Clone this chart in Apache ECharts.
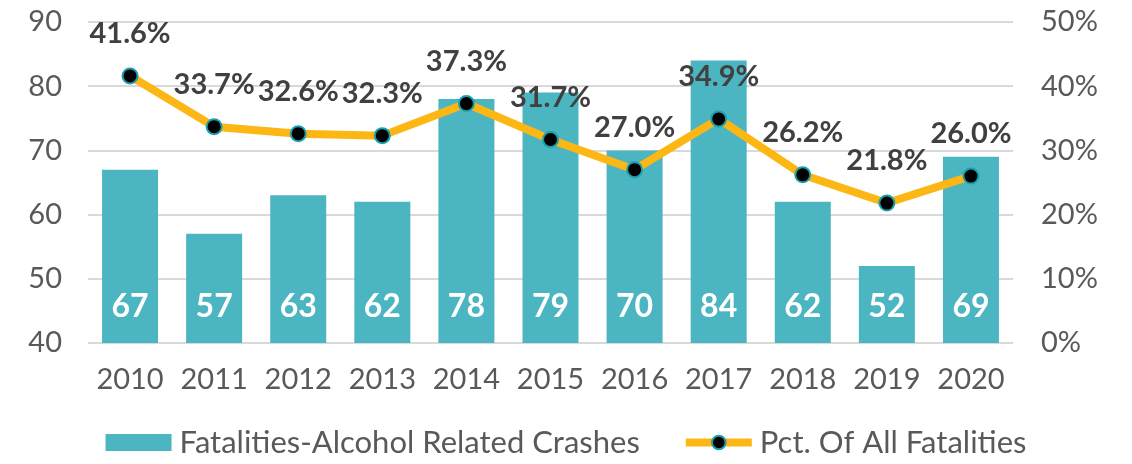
<!DOCTYPE html>
<html>
<head>
<meta charset="utf-8">
<script src="https://cdn.jsdelivr.net/npm/echarts@6/dist/echarts.min.js"></script>
<style>
  html, body { margin: 0; padding: 0; background: #fff; }
  #chart { width: 1132px; height: 464px; }
</style>
</head>
<body>
<div id="chart"></div>
<script>
// data
var years = ["2010", "2011", "2012", "2013", "2014", "2015", "2016", "2017", "2018", "2019", "2020"];
var crashes = [67, 57, 63, 62, 78, 79, 70, 84, 62, 52, 69];
var pctAll = [41.6, 33.7, 32.6, 32.3, 37.3, 31.7, 27.0, 34.9, 26.2, 21.8, 26.0];

var myChart = echarts.init(document.getElementById("chart"));
var font = "Lato";

var option = {
  animation: false,
  textStyle: { fontFamily: font },
  grid: { left: 88, right: 119, top: 22, bottom: 121 },
  legend: {
    bottom: 1,
    left: "center",
    itemGap: 42,
    itemWidth: 66,
    itemHeight: 17,
    textStyle: { fontSize: 31, color: "#595959", fontFamily: font, padding: [0, 0, 0, 3] },
    data: [
      { name: "Fatalities-Alcohol Related Crashes", icon: "rect", itemStyle: { color: "#4bb5c1" } },
      { name: "Pct. Of All Fatalities", lineStyle: { width: 8, color: "#fdb714" } }
    ]
  },
  xAxis: {
    type: "category",
    data: years,
    axisLine: { show: false },
    axisTick: { show: false },
    axisLabel: { color: "#595959", fontSize: 29, margin: 22, interval: 0, fontFamily: font }
  },
  yAxis: [
    {
      type: "value",
      min: 40, max: 90, interval: 10,
      axisLabel: { color: "#595959", fontSize: 29, margin: 26, fontFamily: font },
      splitLine: { lineStyle: { color: "#d9d9d9", width: 2 } }
    },
    {
      type: "value",
      min: 0, max: 50, interval: 10,
      axisLabel: { color: "#595959", fontSize: 29, margin: 28, formatter: "{value}%", fontFamily: font },
      splitLine: { show: false }
    }
  ],
  series: [
    {
      name: "Fatalities-Alcohol Related Crashes",
      type: "bar",
      data: crashes,
      barWidth: 56,
      itemStyle: { color: "#4bb5c1" },
      label: {
        show: true,
        position: "insideBottom",
        distance: 20,
        color: "#fff",
        fontSize: 32,
        fontWeight: "bold",
        fontFamily: font
      }
    },
    {
      name: "Pct. Of All Fatalities",
      type: "line",
      yAxisIndex: 1,
      data: pctAll,
      symbol: "circle",
      symbolSize: 15,
      lineStyle: { color: "#fdb714", width: 8 },
      itemStyle: { color: "#000", borderColor: "#1a9fae", borderWidth: 2 },
      label: {
        show: true,
        position: "top",
        distance: 19,
        color: "#404040",
        fontSize: 29,
        fontWeight: "bold",
        fontFamily: font,
        formatter: function (p) { return p.value.toFixed(1) + "%"; }
      }
    }
  ]
};

myChart.setOption(option);
</script>
</body>
</html>
